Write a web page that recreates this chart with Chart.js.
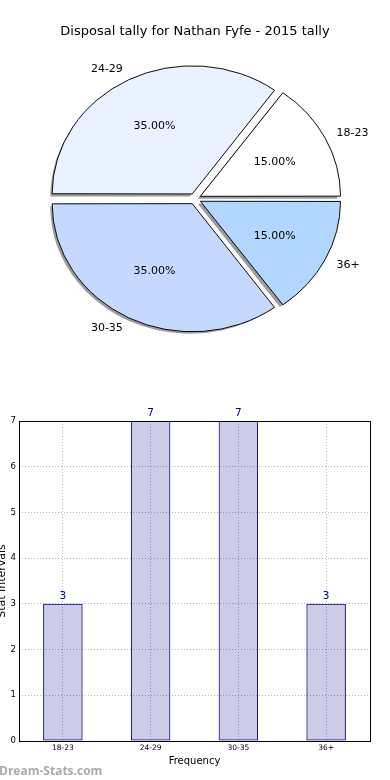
<!DOCTYPE html>
<html>
<head>
<meta charset="utf-8">
<script src="https://cdn.jsdelivr.net/npm/chart.js@4.4.0/dist/chart.umd.min.js"></script>
<style>
  body { margin: 0; background: #fff; width: 390px; height: 780px; overflow: hidden; position: relative; font-family: "DejaVu Sans", sans-serif; }
  #pieBox { position: absolute; left: 0; top: 0; width: 390px; height: 380px; }
  #barBox { position: absolute; left: 0; top: 380px; width: 390px; height: 400px; }
  #mark { position: absolute; left: -1px; top: 762px; font: bold 12px "Open Sans", "DejaVu Sans", sans-serif; color: #aaaaaa; }
</style>
</head>
<body>
<div id="pieBox"><canvas id="pieChart"></canvas></div>
<div id="barBox"><canvas id="barChart"></canvas></div>
<div id="mark">Dream-Stats.com</div>
<script>
// data
var ageGroups = ['18-23', '24-29', '30-35', '36+'];
var disposals = [3, 7, 7, 3];
var pieColors = ['#ffffff', '#ebf2ff', '#c5d9ff', '#b2d6ff'];
var yTicks = [0, 1, 2, 3, 4, 5, 6, 7];
var titleText = 'Disposal tally for Nathan Fyfe - 2015 tally';

var total = disposals.reduce(function(a, b) { return a + b; }, 0);

// pie goes counter-clockwise in the picture, chart.js goes clockwise -> reverse
var pieLabels = ageGroups.slice().reverse();
var pieData = disposals.slice().reverse();
var pieFill = pieColors.slice().reverse();

var squash = 0.914; // the pie is drawn as an ellipse

// chart.js moves an arc by offset/4 along its middle angle
function shiftOf(arc) { return (arc.options.offset || 0) / 4; }

var ellipsePlugin = {
  id: 'ellipse',
  beforeDatasetsDraw: function(chart) {
    var meta = chart.getDatasetMeta(0);
    var el = meta.data[0];
    var ctx = chart.ctx;
    ctx.save();
    ctx.translate(el.x, el.y);
    ctx.scale(1, squash);
    ctx.translate(-el.x, -el.y);
    // grey drop shadow under every slice (left / down)
    ctx.save();
    ctx.translate(-2.5, 2.5 / squash);
    ctx.fillStyle = '#9c9c9c';
    meta.data.forEach(function(arc) {
      var mid = (arc.startAngle + arc.endAngle) / 2;
      var d = shiftOf(arc);
      var cx = arc.x + Math.cos(mid) * d;
      var cy = arc.y + Math.sin(mid) * d;
      ctx.beginPath();
      ctx.moveTo(cx, cy);
      ctx.arc(cx, cy, arc.outerRadius + 0.5, arc.startAngle, arc.endAngle);
      ctx.closePath();
      ctx.fill();
    });
    ctx.restore();
  },
  afterDatasetsDraw: function(chart) {
    var ctx = chart.ctx;
    ctx.restore();
    var meta = chart.getDatasetMeta(0);
    ctx.save();
    ctx.fillStyle = '#000';
    ctx.textBaseline = 'middle';
    ctx.font = '11px "DejaVu Sans"';
    meta.data.forEach(function(arc, i) {
      var mid = (arc.startAngle + arc.endAngle) / 2;
      var off = shiftOf(arc);
      var r = arc.outerRadius;
      var c = Math.cos(mid), s = Math.sin(mid);
      // outer label
      var lx = arc.x + c * (r * 1.1 + off);
      var ly = arc.y + s * (r * 1.1 + off) * squash;
      ctx.textAlign = c >= 0 ? 'left' : 'right';
      ctx.fillText(pieLabels[i], lx, ly);
      // percent
      var px = arc.x + c * (r * 0.6 + off);
      var py = arc.y + s * (r * 0.6 + off) * squash;
      ctx.textAlign = 'center';
      ctx.fillText((pieData[i] / total * 100).toFixed(2) + '%', px, py);
    });
    ctx.restore();
  }
};

new Chart(document.getElementById('pieChart'), {
  type: 'pie',
  data: {
    labels: pieLabels,
    datasets: [{
      data: pieData,
      backgroundColor: pieFill,
      borderColor: '#000',
      borderWidth: 1,
      offset: 24
    }]
  },
  options: {
    responsive: true,
    maintainAspectRatio: false,
    animation: false,
    rotation: 90,
    radius: 139,
    layout: { padding: { left: 0, top: 0, right: 0, bottom: 22 } },
    plugins: {
      legend: { display: false },
      tooltip: { enabled: false },
      title: {
        display: true,
        text: titleText,
        color: '#000',
        font: { family: 'DejaVu Sans', size: 13, weight: 'normal' },
        padding: { top: 24, bottom: 0 }
      }
    }
  },
  plugins: [ellipsePlugin]
});

// bar chart
var frameAndValues = {
  id: 'frameAndValues',
  afterDatasetsDraw: function(chart) {
    var ctx = chart.ctx;
    var a = chart.chartArea;
    ctx.save();
    ctx.strokeStyle = '#000';
    ctx.lineWidth = 1;
    ctx.strokeRect(Math.round(a.left) + 0.5, Math.round(a.top) + 0.5,
      Math.round(a.right - a.left), Math.round(a.bottom - a.top));
    ctx.fillStyle = '#000080';
    ctx.font = '10.5px "DejaVu Sans"';
    ctx.textAlign = 'center';
    ctx.textBaseline = 'bottom';
    chart.getDatasetMeta(0).data.forEach(function(bar, i) {
      ctx.fillText(String(disposals[i]), bar.x, bar.y - 2);
    });
    ctx.restore();
  }
};

new Chart(document.getElementById('barChart'), {
  type: 'bar',
  data: {
    labels: ageGroups,
    datasets: [{
      data: disposals,
      backgroundColor: 'rgba(0,0,128,0.2)',
      borderColor: '#000080',
      borderWidth: 1,
      borderSkipped: false,
      barPercentage: 0.45,
      categoryPercentage: 1
    }]
  },
  options: {
    responsive: true,
    maintainAspectRatio: false,
    animation: false,
    layout: { padding: { left: 0, top: 41, right: 20, bottom: 0 } },
    plugins: { legend: { display: false }, tooltip: { enabled: false } },
    scales: {
      x: {
        grid: { offset: false, color: '#b8b8b8', lineWidth: 1, drawTicks: false },
        border: { display: false, dash: [1, 2] },
        ticks: { color: '#000', font: { family: 'DejaVu Sans', size: 7.5 }, padding: 3, maxRotation: 0 },
        title: { display: true, text: 'Frequency', color: '#000', font: { family: 'DejaVu Sans', size: 10 }, padding: { top: 0, bottom: 13 } },
        afterFit: function(scale) { scale.height = 39; }
      },
      y: {
        min: 0,
        max: 7,
        afterBuildTicks: function(scale) { scale.ticks = yTicks.map(function(v) { return { value: v }; }); },
        grid: { color: '#b8b8b8', lineWidth: 1, drawTicks: false },
        border: { display: false, dash: [1, 2] },
        ticks: { color: '#000', font: { family: 'DejaVu Sans', size: 8.5 }, padding: 3 },
        title: { display: true, text: 'Stat Intervals', color: '#000', font: { family: 'DejaVu Sans', size: 11 }, padding: { top: -4, bottom: 0 } },
        afterFit: function(scale) { scale.width = 19; }
      }
    }
  },
  plugins: [frameAndValues]
});
</script>
</body>
</html>
